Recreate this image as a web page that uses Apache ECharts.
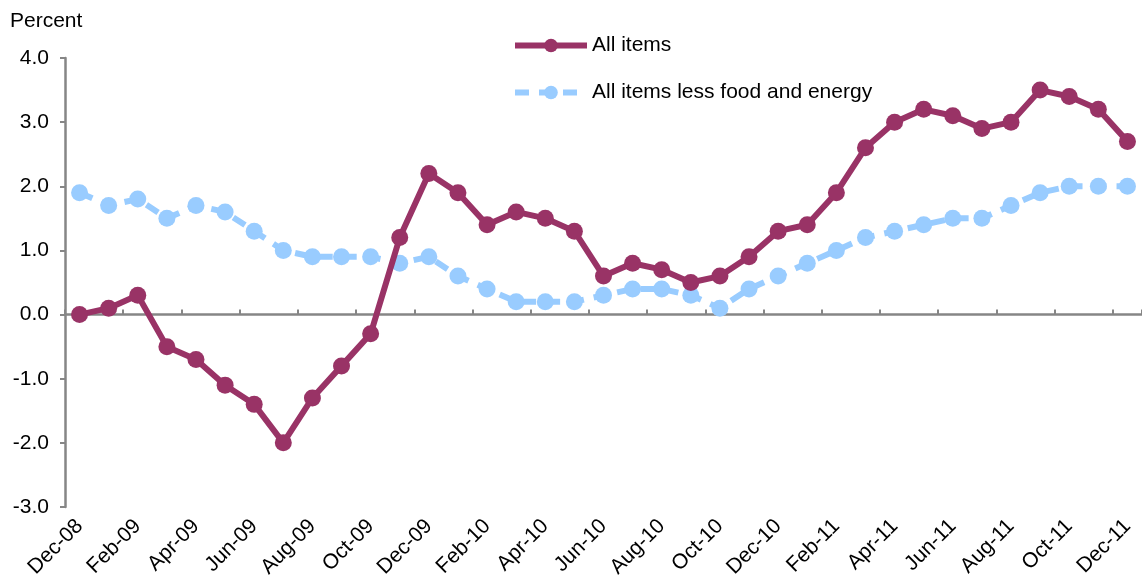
<!DOCTYPE html>
<html>
<head>
<meta charset="utf-8">
<script src="https://cdn.jsdelivr.net/npm/echarts@6/dist/echarts.min.js"></script>
<style>
html, body { margin: 0; padding: 0; background: #fff; }
#chart { width: 1142px; height: 584px; }
</style>
</head>
<body>
<div id="chart"></div>
<script>
// months, Dec-08 .. Dec-11
var months = ['Dec-08','Jan-09','Feb-09','Mar-09','Apr-09','May-09','Jun-09','Jul-09','Aug-09','Sep-09','Oct-09','Nov-09',
	'Dec-09','Jan-10','Feb-10','Mar-10','Apr-10','May-10','Jun-10','Jul-10','Aug-10','Sep-10','Oct-10','Nov-10',
	'Dec-10','Jan-11','Feb-11','Mar-11','Apr-11','May-11','Jun-11','Jul-11','Aug-11','Sep-11','Oct-11','Nov-11','Dec-11'];

// 12-month percent change
var allItems = [0.0, 0.1, 0.3, -0.5, -0.7, -1.1, -1.4, -2.0, -1.3, -0.8, -0.3, 1.2,
	2.2, 1.9, 1.4, 1.6, 1.5, 1.3, 0.6, 0.8, 0.7, 0.5, 0.6, 0.9,
	1.3, 1.4, 1.9, 2.6, 3.0, 3.2, 3.1, 2.9, 3.0, 3.5, 3.4, 3.2, 2.7];
var coreItems = [1.9, 1.7, 1.8, 1.5, 1.7, 1.6, 1.3, 1.0, 0.9, 0.9, 0.9, 0.8,
	0.9, 0.6, 0.4, 0.2, 0.2, 0.2, 0.3, 0.4, 0.4, 0.3, 0.1, 0.4,
	0.6, 0.8, 1.0, 1.2, 1.3, 1.4, 1.5, 1.5, 1.7, 1.9, 2.0, 2.0, 2.0];

var fontName = 'Liberation Sans';
var axisGray = '#868686';

var mychart = echarts.init(document.getElementById('chart'));
var option = {
	animation: false,
	textStyle: { fontFamily: fontName },
	title: {
		text: 'Percent',
		left: 5,
		top: 6,
		textStyle: { fontFamily: fontName, fontSize: 21, fontWeight: 'normal', color: '#000' }
	},
	legend: {
		orient: 'vertical',
		left: 507,
		top: 30,
		itemWidth: 72,
		itemHeight: 17,
		itemGap: 26,
		lineStyle: { width: 6 },
		textStyle: { fontFamily: fontName, fontSize: 21, color: '#000' },
		data: ['All items', 'All items less food and energy']
	},
	grid: { left: 65, right: -13, top: 58, bottom: 77 },
	xAxis: [{
		type: 'category',
		data: months,
		position: 'bottom',
		axisLine: { show: false, onZero: false },
		axisTick: { show: false },
		axisLabel: { interval: 1, rotate: 45, margin: 16, fontSize: 21, color: '#000', fontFamily: fontName }
	}, {
		// zero line with ticks
		type: 'category',
		data: months,
		position: 'top',
		axisLine: { show: true, onZero: true, lineStyle: { color: axisGray, width: 2.5 } },
		axisTick: { show: true, interval: 1, length: 5, lineStyle: { color: axisGray, width: 2 } },
		axisLabel: { show: false }
	}],
	yAxis: {
		type: 'value',
		min: -3,
		max: 4,
		interval: 1,
		splitLine: { show: false },
		axisLine: { show: true, lineStyle: { color: axisGray, width: 2.5 } },
		axisTick: { show: true, length: 5, lineStyle: { color: axisGray, width: 2 } },
		axisLabel: {
			fontSize: 21, color: '#000', fontFamily: fontName, margin: 16,
			formatter: function(v) { return v.toFixed(1); }
		}
	},
	series: [{
		name: 'All items less food and energy',
		type: 'line',
		xAxisIndex: 0,
		data: coreItems,
		symbol: 'circle',
		symbolSize: 17,
		itemStyle: { color: '#99CCFF' },
		lineStyle: { color: '#99CCFF', width: 6, type: [14, 10] },
		z: 2
	}, {
		name: 'All items',
		type: 'line',
		xAxisIndex: 0,
		data: allItems,
		symbol: 'circle',
		symbolSize: 17,
		itemStyle: { color: '#993366' },
		lineStyle: { color: '#993366', width: 6 },
		z: 3
	}]
};
mychart.setOption(option);
</script>
</body>
</html>
